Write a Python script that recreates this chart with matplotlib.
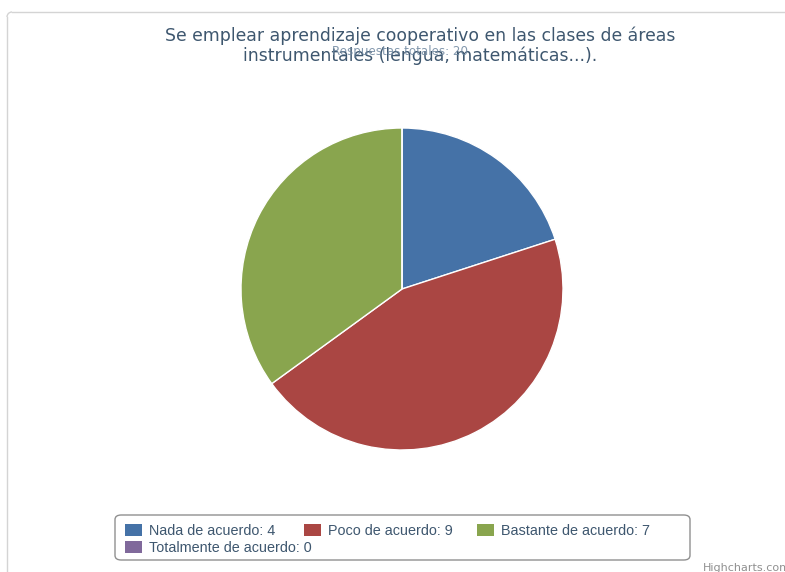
"""Pie chart of survey answers on cooperative learning."""
import matplotlib
matplotlib.use("Agg")
import matplotlib.pyplot as plt
from matplotlib.patches import FancyBboxPatch, Rectangle, Arc
from matplotlib.lines import Line2D

W, H = 785, 572

categories = ["Nada de acuerdo", "Poco de acuerdo", "Bastante de acuerdo", "Totalmente de acuerdo"]
counts = [4, 9, 7, 0]
colors = ["#4572A7", "#AA4643", "#89A54E", "#80699B"]

title = "Se emplear aprendizaje cooperativo en las clases de áreas\ninstrumentales (lengua, matemáticas...)."
subtitle = f"Respuestas totales: {sum(counts)}"

TEXT_COLOR = "#3E576F"


def fx(x):
    return x / W


def fy(y):
    # y measured from the top edge in pixels
    return 1 - y / H


fig = plt.figure(figsize=(W / 100, H / 100), dpi=100)
fig.patch.set_facecolor("white")

# outer chart border: top and left edges with a rounded corner
bc = "#D4D4D4"
rad = 5
fig.add_artist(Line2D([fx(7 + rad), fx(W + 5)], [fy(12), fy(12)], color=bc, lw=1.0))
fig.add_artist(Line2D([fx(7), fx(7)], [fy(12 + rad), fy(H + 5)], color=bc, lw=1.0))
fig.add_artist(Arc((fx(7 + rad), fy(12 + rad)), 2 * rad / W, 2 * rad / H,
                   theta1=90, theta2=180, color=bc, lw=1.0,
                   transform=fig.transFigure))

# pie
cx, cy, r = 402, 289, 161
ax = fig.add_axes([fx(cx - r), fy(cy + r), 2 * r / W, 2 * r / H])
ax.pie(counts, colors=colors, startangle=90, counterclock=False, radius=1,
       wedgeprops=dict(edgecolor="white", linewidth=1.0))
ax.set_xlim(-1, 1)
ax.set_ylim(-1, 1)
ax.set_aspect("equal")
ax.axis("off")

# title + subtitle (the subtitle sits over the second title line)
fig.text(fx(420), fy(46), title, ha="center", va="center", fontsize=12.4,
         color=TEXT_COLOR, family="DejaVu Sans", linespacing=1.12)
fig.text(fx(400), fy(52), subtitle, ha="center", va="center", fontsize=8.6,
         color="#6D869F", alpha=0.85, family="DejaVu Sans")

# legend box
box = FancyBboxPatch((fx(115), fy(560)), fx(690 - 115), (560 - 515) / H,
                     boxstyle="round,pad=0,rounding_size=0.008",
                     transform=fig.transFigure, facecolor="white",
                     edgecolor="#909090", linewidth=1.0)
fig.patches.append(box)

item_pos = [(125, 530), (304, 530), (477, 530), (125, 547)]
for (lx, ly), name, val, col in zip(item_pos, categories, counts, colors):
    fig.patches.append(Rectangle((fx(lx), fy(ly + 6)), 17 / W, 12 / H,
                                 transform=fig.transFigure, facecolor=col,
                                 edgecolor="none"))
    fig.text(fx(lx + 24), fy(ly + 1), f"{name}: {val}", ha="left", va="center",
             fontsize=10.4, color=TEXT_COLOR, family="Liberation Sans")

fig.text(fx(703), fy(568), "Highcharts.com", ha="left", va="center",
         fontsize=8, color="#909090", family="DejaVu Sans")

fig.savefig("out.png", dpi=100, facecolor="white")
